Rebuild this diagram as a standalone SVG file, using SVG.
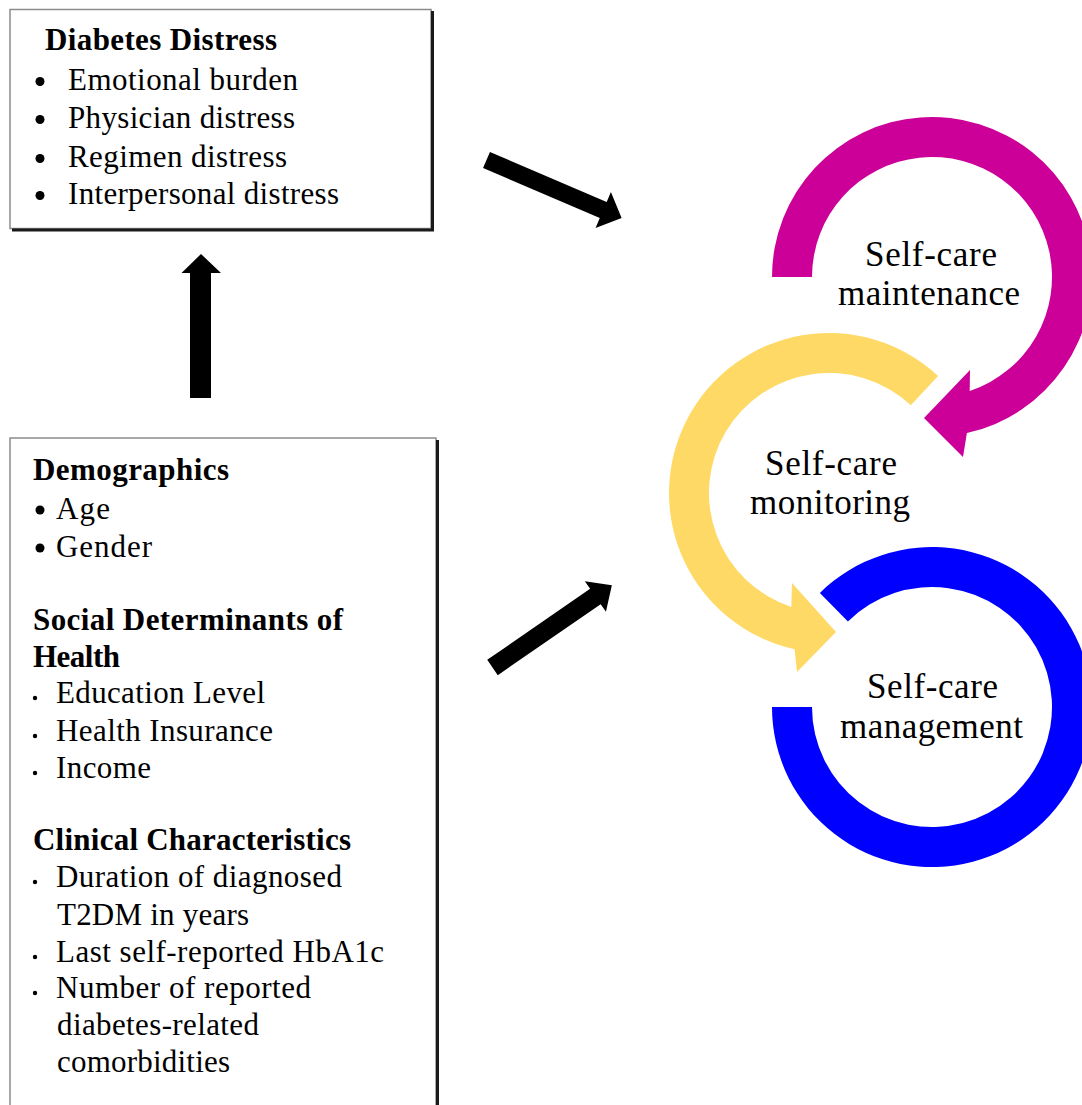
<svg xmlns="http://www.w3.org/2000/svg" width="1082" height="1105" viewBox="0 0 1082 1105">
  <style>
    .box { fill: #ffffff; stroke: #8c8c8c; stroke-width: 1.5; }
    .shadow { stroke: #1a1a1a; stroke-width: 3; fill: none; }
    .t { font-family: "Liberation Serif", "Times New Roman", serif; font-size: 31px; fill: #000000; }
    .b { font-weight: bold; }
    .lbl { font-family: "Liberation Serif", "Times New Roman", serif; font-size: 35px; fill: #000000; }
    .dot { fill: #000000; }
    .arrow { fill: #000000; }
  </style>
  <rect width="1082" height="1105" fill="#ffffff"/>

  <!-- Diabetes distress box -->
  <g id="diabetes-distress">
    <rect class="box" x="10" y="9.5" width="421" height="219"/>
    <polyline class="shadow" points="432.5,11 432.5,230 12,230"/>
    <text class="t b" x="45" y="50" textLength="232" lengthAdjust="spacing">Diabetes Distress</text>
    <circle class="dot" cx="40" cy="81.5" r="4.5"/>
    <text class="t" x="68" y="90" textLength="230" lengthAdjust="spacing">Emotional burden</text>
    <circle class="dot" cx="40" cy="119.5" r="4.5"/>
    <text class="t" x="68" y="128" textLength="227" lengthAdjust="spacing">Physician distress</text>
    <circle class="dot" cx="40" cy="158.5" r="4.5"/>
    <text class="t" x="68" y="167" textLength="219" lengthAdjust="spacing">Regimen distress</text>
    <circle class="dot" cx="40" cy="195.5" r="4.5"/>
    <text class="t" x="68" y="204" textLength="271" lengthAdjust="spacing">Interpersonal distress</text>
  </g>

  <!-- Predictors box -->
  <g id="predictors">
    <rect class="box" x="10" y="438" width="426" height="700"/>
    <line class="shadow" x1="437.5" y1="440" x2="437.5" y2="1105"/>
    <text class="t b" x="33" y="480" textLength="196" lengthAdjust="spacing">Demographics</text>
    <circle class="dot" cx="40" cy="510" r="4.5"/>
    <text class="t" x="56" y="519" textLength="54" lengthAdjust="spacing">Age</text>
    <circle class="dot" cx="40" cy="548" r="4.5"/>
    <text class="t" x="56" y="557" textLength="96" lengthAdjust="spacing">Gender</text>

    <text class="t b" x="33" y="630" textLength="310" lengthAdjust="spacing">Social Determinants of</text>
    <text class="t b" x="33" y="667" textLength="87" lengthAdjust="spacing">Health</text>
    <circle class="dot" cx="35" cy="698" r="2.2"/>
    <text class="t" x="56" y="703" textLength="209" lengthAdjust="spacing">Education Level</text>
    <circle class="dot" cx="35" cy="736" r="2.2"/>
    <text class="t" x="56" y="741" textLength="217" lengthAdjust="spacing">Health Insurance</text>
    <circle class="dot" cx="35" cy="773" r="2.2"/>
    <text class="t" x="56" y="778" textLength="95" lengthAdjust="spacing">Income</text>

    <text class="t b" x="33" y="850" textLength="318" lengthAdjust="spacing">Clinical Characteristics</text>
    <circle class="dot" cx="35" cy="882" r="2.2"/>
    <text class="t" x="56" y="887" textLength="286" lengthAdjust="spacing">Duration of diagnosed</text>
    <text class="t" x="57" y="925" textLength="192" lengthAdjust="spacing">T2DM in years</text>
    <circle class="dot" cx="35" cy="957" r="2.2"/>
    <text class="t" x="56" y="962" textLength="328" lengthAdjust="spacing">Last self-reported HbA1c</text>
    <circle class="dot" cx="35" cy="993" r="2.2"/>
    <text class="t" x="56" y="998" textLength="255" lengthAdjust="spacing">Number of reported</text>
    <text class="t" x="57" y="1035" textLength="202" lengthAdjust="spacing">diabetes-related</text>
    <text class="t" x="57" y="1072" textLength="173" lengthAdjust="spacing">comorbidities</text>
  </g>

  <!-- Self-care cycle: three curved arrows -->
  <g id="self-care-maintenance">
    <path fill="#CC0099" d="M772,277 A160,160 0 1 1 966.9,433.1 L963,457 L924,418 L970,370 L969.7,390.9 A120,120 0 1 0 812,277 Z"/>
    <text class="lbl" x="865" y="266" textLength="132" lengthAdjust="spacing">Self-care</text>
    <text class="lbl" x="838" y="305" textLength="182" lengthAdjust="spacing">maintenance</text>
  </g>
  <g id="self-care-monitoring">
    <path fill="#FFD966" d="M938.1,376 A160,160 0 1 0 794.6,649.3 L797,672 L836,632 L792,583 L791.3,606.9 A120,120 0 1 1 910.8,405.2 Z"/>
    <text class="lbl" x="765" y="475" textLength="132" lengthAdjust="spacing">Self-care</text>
    <text class="lbl" x="750" y="514" textLength="160" lengthAdjust="spacing">monitoring</text>
  </g>
  <g id="self-care-management">
    <path fill="#0000FF" d="M772,707 A160,160 0 1 0 819.9,592.9 L847.9,621.4 A120,120 0 1 1 812,707 Z"/>
    <text class="lbl" x="867" y="698" textLength="131" lengthAdjust="spacing">Self-care</text>
    <text class="lbl" x="840" y="738" textLength="183" lengthAdjust="spacing">management</text>
  </g>

  <!-- Connectors -->
  <g id="connectors">
    <polygon class="arrow" points="190,398 211,398 211,273 221,273 201,254 181.5,273 190,273"/>
    <polygon class="arrow" transform="translate(486.5,160) rotate(23.2)" points="0,-8.75 127,-8.75 127,-19.5 147,0 127,19.5 127,8.75 0,8.75"/>
    <polygon class="arrow" transform="translate(492.5,667.5) rotate(-34.6)" points="0,-9.3 125,-9.3 125,-18.6 145,0 125,18.6 125,9.3 0,9.3"/>
  </g>
</svg>
